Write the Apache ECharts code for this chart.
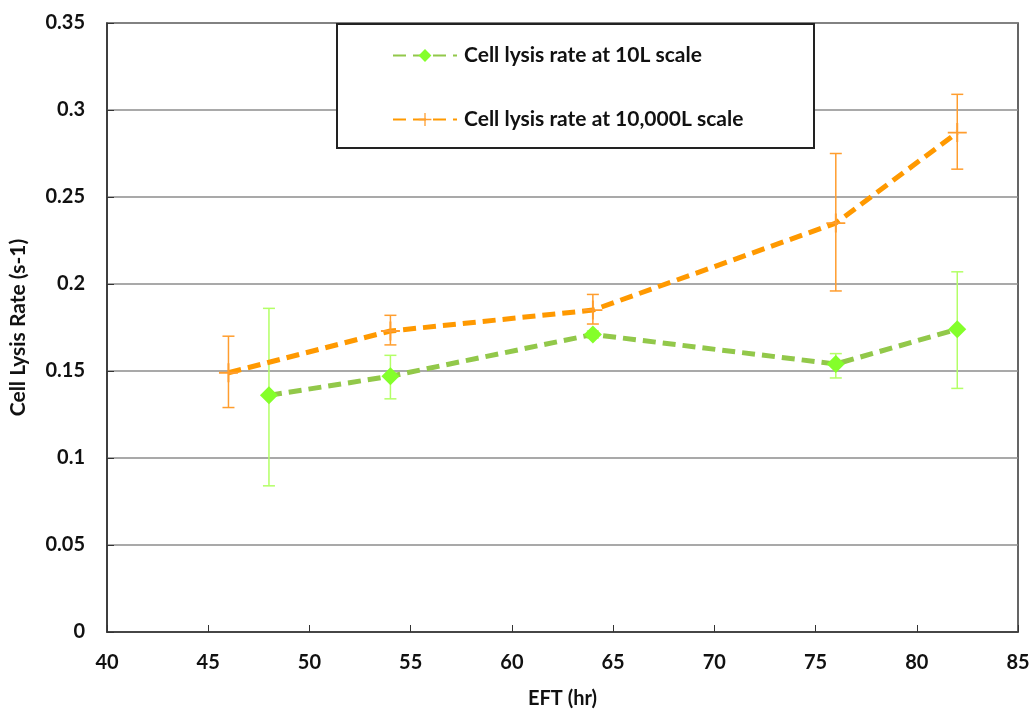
<!DOCTYPE html>
<html>
<head>
<meta charset="utf-8">
<script src="https://cdn.jsdelivr.net/npm/echarts@6/dist/echarts.min.js"></script>
<style>
  html, body { margin: 0; padding: 0; background: #fff; }
  #chart { width: 1031px; height: 711px; }
</style>
</head>
<body>
<div id="chart"></div>
<script>
// 10L scale
const eft10L = [48, 54, 64, 76, 82];
const rate10L = [0.136, 0.147, 0.171, 0.154, 0.174];
const low10L = [0.084, 0.134, 0.169, 0.146, 0.140];
const high10L = [0.186, 0.159, 0.173, 0.160, 0.207];

// 10,000L scale
const eft10000L = [46, 54, 64, 76, 82];
const rate10000L = [0.149, 0.173, 0.185, 0.235, 0.287];
const low10000L = [0.129, 0.165, 0.177, 0.196, 0.266];
const high10000L = [0.170, 0.182, 0.194, 0.275, 0.309];

const font = 'Lato, "Open Sans", sans-serif';
const plusPath = 'path://M0,9 L20,9 L20,11 L0,11 Z M9,0 L11,0 L11,20 L9,20 Z';

const chart = echarts.init(document.getElementById('chart'));

function pairs(xs, ys) {
  return xs.map((x, i) => [x, ys[i]]);
}
function errData(xs, lo, hi) {
  return xs.map((x, i) => [x, lo[i], hi[i]]);
}
// error bars with caps
function errRender(color) {
  return function (params, api) {
    const top = api.coord([api.value(0), api.value(2)]);
    const bot = api.coord([api.value(0), api.value(1)]);
    const cap = 6;
    const style = { stroke: color, lineWidth: 1.5 };
    return {
      type: 'group',
      children: [
        { type: 'line', shape: { x1: top[0], y1: top[1], x2: bot[0], y2: bot[1] }, style },
        { type: 'line', shape: { x1: top[0] - cap, y1: top[1], x2: top[0] + cap, y2: top[1] }, style },
        { type: 'line', shape: { x1: bot[0] - cap, y1: bot[1], x2: bot[0] + cap, y2: bot[1] }, style }
      ]
    };
  };
}

const option = {
  backgroundColor: '#fff',
  animation: false,
  textStyle: { fontFamily: font },
  grid: {
    left: 107, right: 13, top: 23, bottom: 79,
    outerBoundsMode: 'none', containLabel: false,
    show: true, borderColor: '#333', borderWidth: 1.5
  },
  graphic: [{
    type: 'rect',
    shape: { x: 337, y: 24, width: 477, height: 124 },
    style: { fill: '#fff', stroke: '#222', lineWidth: 2 },
    z: 10
  }],
  legend: {
    orient: 'vertical',
    left: 392, top: 45, padding: 0,
    itemWidth: 64, itemHeight: 16, itemGap: 43,
    z: 20,
    textStyle: { fontFamily: font, fontSize: 21, fontWeight: 'bold', color: '#111', padding: [0, 0, 0, 2] },
    data: ['Cell lysis rate at 10L scale', 'Cell lysis rate at 10,000L scale']
  },
  xAxis: {
    type: 'value', min: 40, max: 85, interval: 5,
    name: 'EFT (hr)', nameLocation: 'middle', nameGap: 57,
    nameTextStyle: { fontFamily: font, fontSize: 20, fontWeight: 'bold', color: '#111' },
    axisLine: { lineStyle: { color: '#333', width: 1.5 } },
    axisTick: { inside: true, length: 7, lineStyle: { color: '#333' } },
    axisLabel: { fontSize: 20, fontWeight: 'bold', color: '#111', margin: 21 },
    splitLine: { show: false }
  },
  yAxis: {
    type: 'value', min: 0, max: 0.35, interval: 0.05,
    name: 'Cell Lysis Rate (s-1)', nameLocation: 'middle', nameGap: 78,
    nameTextStyle: { fontFamily: font, fontSize: 21, fontWeight: 'bold', color: '#111' },
    axisLine: { show: true, lineStyle: { color: '#333', width: 1.5 } },
    axisTick: { show: true, inside: true, length: 7, lineStyle: { color: '#333' } },
    axisLabel: { fontSize: 20, fontWeight: 'bold', color: '#111', margin: 22 },
    splitLine: { lineStyle: { color: '#8c8c8c', width: 1.5 } }
  },
  series: [
    {
      type: 'custom', name: 'err10L',
      renderItem: errRender('#b3ff66'),
      data: errData(eft10L, low10L, high10L),
      encode: { x: 0, y: [1, 2] }, z: 2, silent: true
    },
    {
      type: 'custom', name: 'err10000L',
      renderItem: errRender('#ff9d2e'),
      data: errData(eft10000L, low10000L, high10000L),
      encode: { x: 0, y: [1, 2] }, z: 2, silent: true
    },
    {
      name: 'Cell lysis rate at 10L scale',
      type: 'line',
      data: pairs(eft10L, rate10L),
      symbol: 'diamond', symbolSize: 18,
      itemStyle: { color: '#84ff2a' },
      lineStyle: { color: '#92c84a', width: 5, type: [13, 7] },
      z: 3
    },
    {
      name: 'Cell lysis rate at 10,000L scale',
      type: 'line',
      data: pairs(eft10000L, rate10000L),
      symbol: plusPath, symbolSize: 19,
      itemStyle: { color: '#ff9d2e' },
      lineStyle: { color: '#ff9900', width: 5, type: [13, 7] },
      z: 4
    }
  ]
};

chart.setOption(option);
</script>
</body>
</html>
